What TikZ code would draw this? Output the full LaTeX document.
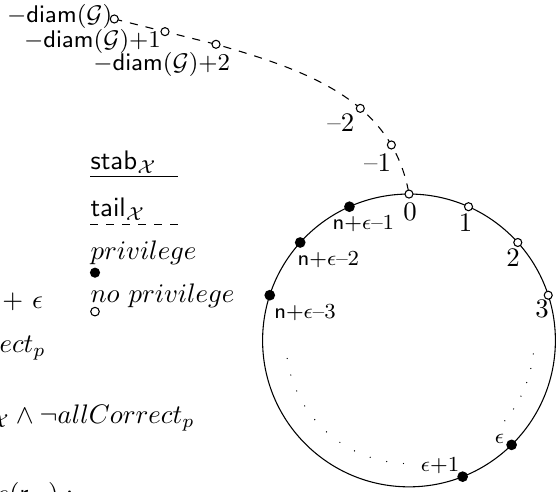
\documentclass[tikz,border=0pt]{standalone}
\usepackage{amsmath}
\usepackage{amssymb}
\usepackage{tikz}
\usetikzlibrary{positioning}

\begin{document}
\begin{tikzpicture}[>=stealth,
    priv/.style={fill=black},
    nopriv/.style={draw, fill=white},
    lbl/.style={inner sep=0pt, anchor=base west},
    dlbl/.style={font=\small, inner sep=0.5pt},
    gap/.style={line width=0.5pt, line cap=round}]
            % Frame
            \clip (-5.364,-1.987) rectangle (1.928,4.465);

            % Text cut off on the left
            \node[lbl] (f1) at (-5.340,0.413) {$+\ \epsilon$};
            \node[lbl] (f2) at (-5.377,-0.164) {$ect_p$};
            \node[lbl] (f3) at (-5.495,-1.086) {${}_{\mathcal{X}} \wedge \neg allCorrect_p$};
            \node[lbl] (f4) at (-5.416,-2.122) {$e(\mathsf{r}_{\mathcal{X}}):$};

            % Legend
            \node[lbl] (lg-stab) at (-4.183,2.236) {$\mathsf{stab}_{\mathcal{X}}$};
            \draw (-4.183,2.148) -- (-3.033,2.148);
            \node[lbl] (lg-tail) at (-4.183,1.624) {$\mathsf{tail}_{\mathcal{X}}$};
            \draw[dashed] (-4.183,1.515) -- (-3.025,1.515);
            \node[lbl] (lg-priv) at (-4.183,1.056) {$privilege$};
            \fill[priv] (-4.118,0.889) circle (1.9pt);
            \node[lbl] (lg-nopriv) at (-4.183,0.496) {$no\ privilege$};
            \filldraw[nopriv] (-4.118,0.378) circle (1.6pt);

            % Ring
            \draw (0,0) circle (1.92);
            \coordinate (p0) at (90:1.92);
            \coordinate (p1) at (66:1.92);
            \coordinate (p2) at (42:1.92);
            \coordinate (p3) at (18:1.92);
            \coordinate (q1) at (114:1.92);
            \coordinate (q2) at (138:1.92);
            \coordinate (q3) at (162:1.92);
            \coordinate (e0) at (-45.5:1.92);
            \coordinate (e1) at (-68.5:1.92);

            % Dotted gaps
            \draw[gap, dash pattern=on 0pt off 5.5pt] (-6.2:1.64) arc[start angle=-6.2, end angle=-40, radius=1.64];
            \draw[gap, dash pattern=on 0pt off 6.34pt] (188.4:1.615) arc[start angle=188.4, end angle=267.5, radius=1.615];

            % Dashed tail
            \coordinate (d0) at (-3.865,4.216);
            \coordinate (d1) at (-3.200,4.050);
            \coordinate (d2) at (-2.531,3.884);
            \draw[dashed] (d0) -- (d1) -- (d2) to[out=-16, in=100]
                coordinate[pos=0.6] (m2) coordinate[pos=0.8] (m1) (p0);

            % Points
            \filldraw[nopriv] (d0) circle (1.5pt);
            \filldraw[nopriv] (d1) circle (1.5pt);
            \filldraw[nopriv] (d2) circle (1.5pt);
            \filldraw[nopriv] (m2) circle (1.5pt);
            \filldraw[nopriv] (m1) circle (1.5pt);
            \filldraw[nopriv] (p0) circle (1.5pt);
            \filldraw[nopriv] (p1) circle (1.5pt);
            \filldraw[nopriv] (p2) circle (1.5pt);
            \filldraw[nopriv] (p3) circle (1.5pt);
            \fill[priv] (q1) circle (2pt);
            \fill[priv] (q2) circle (2pt);
            \fill[priv] (q3) circle (2pt);
            \fill[priv] (e0) circle (2pt);
            \fill[priv] (e1) circle (2pt);

            % Labels
            \node[dlbl] (ld0) at (-4.581,4.246) {$-\mathsf{diam}(\mathcal{G})$};
            \node[dlbl] (ld1) at (-4.151,3.924) {$-\mathsf{diam}(\mathcal{G}){+}1$};
            \node[dlbl] (ld2) at (-3.243,3.613) {$-\mathsf{diam}(\mathcal{G}){+}2$};
            \node (lm2) at (-0.894,2.859) {--2};
            \node (lm1) at (-0.413,2.328) {--1};
            \node (lp0) at (0.013,1.689) {0};
            \node (lp1) at (0.741,1.547) {1};
            \node (lp2) at (1.364,1.088) {2};
            \node (lp3) at (1.744,0.416) {3};
            \node[font=\footnotesize] (lq1) at (-0.599,1.528) {$\mathsf{n}{+}\epsilon$--1};
            \node[font=\footnotesize] (lq2) at (-1.058,1.060) {$\mathsf{n}{+}\epsilon$--2};
            \node[font=\footnotesize] (lq3) at (-1.364,0.370) {$\mathsf{n}{+}\epsilon$--3};
            \node[font=\footnotesize] (le0) at (1.187,-1.288) {$\epsilon$};
            \node[font=\footnotesize] (le1) at (0.407,-1.642) {$\epsilon{+}1$};
        \end{tikzpicture}
\end{document}
